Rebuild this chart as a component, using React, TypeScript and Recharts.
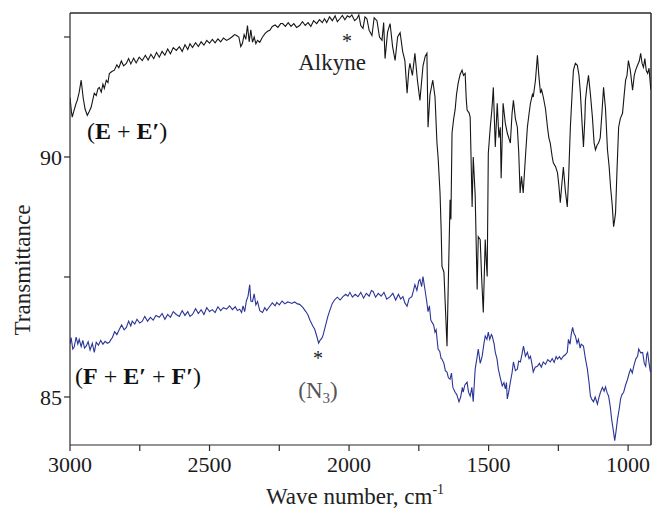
import { LineChart, Line, XAxis, YAxis } from 'recharts'

// wavenumber (cm-1) / transmittance pairs
const upperWave = [
  3000, 2995, 2992, 2985, 2978, 2974, 2967, 2960, 2956, 2953, 2946, 2938, 2931, 2924, 2918, 2913, 2906, 2900, 2895,
  2888, 2882, 2877, 2870, 2864, 2859, 2850, 2841, 2832, 2825, 2816, 2808, 2798, 2790, 2782, 2772, 2763, 2752, 2741,
  2730, 2720, 2710, 2700, 2690, 2680, 2670, 2660, 2650, 2640, 2630, 2619, 2608, 2598, 2588, 2578, 2570, 2561, 2550,
  2540, 2530, 2520, 2510, 2500, 2490, 2480, 2470, 2460, 2450, 2439, 2430, 2420, 2410, 2403, 2395, 2388, 2382, 2376,
  2370, 2364, 2358, 2352, 2346, 2340, 2334, 2328, 2320, 2310, 2300, 2292, 2284, 2275, 2265, 2255, 2245, 2238, 2228,
  2218, 2208, 2198, 2188, 2177, 2167, 2157, 2147, 2137, 2127, 2116, 2106, 2096, 2088, 2080, 2070, 2060, 2050, 2042,
  2033, 2024, 2015, 2006, 1998, 1990, 1980, 1972, 1965, 1958, 1950, 1943, 1936, 1928, 1918, 1910, 1900, 1891, 1882,
  1876, 1871, 1862, 1853, 1844, 1835, 1826, 1817, 1808, 1800, 1792, 1786, 1782, 1773, 1764, 1755, 1746, 1735, 1727,
  1721, 1717, 1710, 1700, 1692, 1685, 1681, 1674, 1670, 1667, 1660, 1656, 1649, 1645, 1638, 1635, 1631, 1625, 1620,
  1615, 1609, 1602, 1595, 1590, 1584, 1580, 1577, 1570, 1566, 1559, 1555, 1548, 1541, 1537, 1530, 1525, 1519, 1512,
  1508, 1505, 1501, 1494, 1488, 1483, 1476, 1469, 1463, 1458, 1455, 1448, 1440, 1433, 1422, 1416, 1411, 1404, 1397,
  1392, 1387, 1382, 1376, 1368, 1361, 1355, 1350, 1343, 1340, 1332, 1325, 1320, 1314, 1310, 1304, 1296, 1289, 1284,
  1279, 1272, 1268, 1260, 1253, 1248, 1243, 1238, 1232, 1225, 1218, 1213, 1207, 1200, 1196, 1189, 1182, 1176, 1171,
  1165, 1160, 1155, 1153, 1148, 1142, 1135, 1128, 1122, 1117, 1111, 1106, 1100, 1094, 1088, 1081, 1074, 1068, 1063,
  1057, 1052, 1048, 1045, 1040, 1034, 1028, 1020, 1014, 1009, 1004, 999, 992, 984, 978, 973, 967, 960, 955, 950, 945,
  940, 935, 930, 925, 920, 918,
]
const upperT = [
  91.24, 90.95, 90.83, 90.98, 91.12, 91.18, 91.35, 91.6, 91.4, 91.24, 91.0, 90.87, 90.95, 91.04, 91.2, 91.33, 91.28,
  91.42, 91.45, 91.35, 91.52, 91.43, 91.6, 91.55, 91.74, 91.78, 91.81, 91.92, 91.86, 92.0, 91.9, 91.95, 92.05, 91.94,
  92.06, 91.96, 92.08, 92.01, 92.12, 92.02, 92.14, 92.05, 92.18, 92.08, 92.2, 92.12, 92.25, 92.15, 92.28, 92.22, 92.3,
  92.2, 92.34, 92.24, 92.36, 92.28, 92.38, 92.3, 92.4, 92.33, 92.43, 92.37, 92.45, 92.38, 92.46, 92.4, 92.48, 92.43,
  92.46, 92.5, 92.55, 92.53, 92.5, 92.3, 92.37, 92.55, 92.45, 92.74, 92.4, 92.65, 92.39, 92.5, 92.36, 92.43, 92.39,
  92.5, 92.58, 92.62, 92.64, 92.72, 92.75, 92.7, 92.78, 92.78, 92.72, 92.8, 92.72, 92.78, 92.7, 92.74, 92.82, 92.74,
  92.8, 92.72, 92.84, 92.78, 92.86, 92.8, 92.88, 92.8, 92.92, 92.84, 92.94, 92.82, 92.88, 92.95, 92.86, 92.94, 92.91,
  92.96, 92.84, 92.88, 92.96, 92.74, 92.68, 92.92, 92.88, 92.64, 92.53, 92.9, 92.84, 92.5, 92.43, 92.8, 92.05, 92.6,
  92.78, 92.3, 92.01, 92.5, 92.59, 92.2, 92.01, 91.33, 91.8, 91.95, 91.7, 92.16, 91.6, 91.18, 91.9, 92.1, 92.16, 90.62,
  91.3, 91.6, 91.25, 90.29, 90.0, 89.25, 88.5, 87.72, 87.6, 87.03, 86.06, 87.2, 89.11, 88.7, 90.5, 90.8, 90.98, 91.3,
  91.54, 91.72, 91.81, 91.7, 91.74, 91.2, 90.98, 90.92, 90.83, 88.96, 90.0, 89.2, 87.24, 88.34, 88.28, 87.5, 86.76,
  88.28, 87.8, 87.51, 90.08, 90.62, 91.0, 91.45, 90.21, 91.12, 90.4, 90.62, 89.56, 91.12, 90.7, 90.5, 90.29, 90.9,
  91.18, 90.8, 90.62, 90.1, 89.25, 89.6, 89.25, 90.0, 90.62, 90.9, 91.12, 91.3, 91.25, 91.6, 92.12, 91.7, 91.33, 91.4,
  91.25, 91.0, 90.62, 90.4, 90.29, 90.0, 89.88, 89.8, 89.67, 89.4, 89.05, 89.4, 89.79, 89.3, 88.96, 89.6, 90.62, 91.4,
  91.81, 91.95, 91.91, 91.7, 91.33, 90.7, 90.21, 90.8, 91.18, 91.45, 91.7, 91.3, 90.83, 90.3, 90.15, 90.25, 90.29,
  90.4, 90.9, 91.45, 91.0, 90.15, 89.8, 89.38, 89.0, 88.55, 88.7, 88.84, 89.7, 90.62, 90.8, 90.91, 91.3, 91.6, 91.7,
  92.01, 91.8, 91.39, 91.7, 91.81, 91.9, 92.0, 92.16, 91.95, 91.87, 92.05, 91.8, 91.74, 91.85, 91.49, 91.4,
]

const lowerWave = [
  3000, 2996, 2990, 2985, 2978, 2972, 2967, 2960, 2954, 2948, 2942, 2935, 2928, 2920, 2913, 2906, 2898, 2890, 2882,
  2874, 2866, 2859, 2853, 2848, 2840, 2832, 2823, 2815, 2806, 2798, 2790, 2782, 2777, 2768, 2760, 2750, 2741, 2732,
  2722, 2712, 2702, 2692, 2680, 2670, 2660, 2650, 2640, 2630, 2619, 2608, 2598, 2588, 2578, 2570, 2561, 2550, 2540,
  2530, 2520, 2510, 2500, 2490, 2480, 2470, 2460, 2450, 2439, 2428, 2418, 2408, 2400, 2392, 2385, 2380, 2374, 2368,
  2362, 2356, 2352, 2346, 2340, 2334, 2328, 2320, 2310, 2302, 2295, 2284, 2275, 2265, 2259, 2250, 2240, 2230, 2220,
  2213, 2205, 2195, 2185, 2177, 2165, 2155, 2148, 2140, 2130, 2123, 2115, 2109, 2104, 2098, 2094, 2086, 2076, 2068,
  2060, 2051, 2042, 2032, 2022, 2012, 2004, 1997, 1988, 1978, 1968, 1958, 1948, 1938, 1928, 1920, 1914, 1905, 1895,
  1885, 1875, 1865, 1853, 1843, 1833, 1823, 1815, 1807, 1800, 1792, 1785, 1775, 1770, 1764, 1757, 1750, 1746, 1740,
  1735, 1731, 1728, 1722, 1717, 1712, 1707, 1703, 1697, 1692, 1688, 1681, 1675, 1670, 1667, 1660, 1655, 1649, 1644,
  1638, 1633, 1628, 1620, 1614, 1606, 1600, 1594, 1591, 1585, 1577, 1572, 1566, 1560, 1555, 1550, 1548, 1542, 1537,
  1530, 1523, 1517, 1512, 1506, 1501, 1496, 1490, 1487, 1480, 1476, 1470, 1465, 1458, 1451, 1445, 1440, 1436, 1433,
  1428, 1422, 1416, 1411, 1404, 1397, 1392, 1386, 1380, 1375, 1368, 1361, 1355, 1350, 1345, 1340, 1333, 1325, 1318,
  1311, 1304, 1296, 1288, 1279, 1272, 1265, 1258, 1253, 1246, 1240, 1232, 1225, 1218, 1214, 1208, 1204, 1199, 1194,
  1189, 1183, 1178, 1172, 1168, 1160, 1153, 1146, 1140, 1135, 1130, 1124, 1118, 1110, 1104, 1099, 1092, 1086, 1081,
  1075, 1070, 1064, 1059, 1053, 1048, 1043, 1038, 1032, 1027, 1022, 1016, 1009, 1002, 996, 991, 985, 980, 972, 966,
  962, 955, 948, 942, 937, 933, 930, 925, 920, 918,
]
const lowerT = [
  86.1, 86.24, 86.0, 86.04, 86.25, 86.1, 86.2, 86.05, 86.18, 86.02, 86.06, 86.15, 85.98, 86.12, 85.93, 86.14, 86.08,
  86.18, 86.1, 86.16, 86.12, 86.14, 86.2, 86.24, 86.36, 86.3, 86.41, 86.5, 86.4, 86.45, 86.58, 86.48, 86.58, 86.52,
  86.62, 86.54, 86.58, 86.68, 86.58, 86.66, 86.6, 86.7, 86.66, 86.74, 86.62, 86.72, 86.66, 86.78, 86.72, 86.68, 86.8,
  86.7, 86.78, 86.68, 86.72, 86.84, 86.74, 86.82, 86.72, 86.86, 86.78, 86.82, 86.76, 86.88, 86.8, 86.86, 86.83, 86.9,
  86.82, 86.88, 86.8, 86.83, 86.76, 86.9, 86.78, 87.0, 87.1, 87.34, 87.0, 86.99, 87.15, 86.92, 86.99, 86.8, 86.76,
  86.86, 86.8, 86.89, 86.96, 86.9, 86.97, 86.92, 87.0, 86.94, 86.98, 86.97, 86.95, 86.98, 86.94, 86.93, 86.86, 86.78,
  86.72, 86.6, 86.48, 86.41, 86.25, 86.12, 86.18, 86.22, 86.27, 86.45, 86.68, 86.82, 86.95, 87.03, 87.08, 87.02,
  87.09, 87.14, 87.1, 87.18, 87.08, 87.14, 87.09, 87.18, 87.06, 87.16, 87.1, 87.22, 87.2, 87.08, 87.16, 87.1, 87.18,
  87.04, 87.09, 87.16, 87.02, 87.14, 87.04, 87.09, 86.96, 86.89, 87.05, 87.09, 87.2, 87.34, 87.22, 87.42, 87.45, 87.3,
  87.51, 87.35, 87.24, 87.0, 86.78, 86.9, 86.6, 86.56, 86.5, 86.35, 86.4, 86.0, 85.95, 85.8, 85.79, 85.7, 85.55,
  85.52, 85.4, 85.37, 85.5, 85.2, 85.1, 85.05, 84.9, 85.0, 85.2, 85.1, 85.25, 85.31, 85.1, 85.02, 85.2, 84.9, 85.4,
  85.58, 85.8, 86.0, 85.7, 85.85, 86.1, 86.27, 86.2, 86.35, 86.2, 86.3, 86.27, 86.1, 85.93, 85.8, 85.58, 85.4, 85.23,
  85.3, 85.17, 85.3, 84.96, 85.1, 85.31, 85.5, 85.73, 85.55, 85.58, 85.75, 85.73, 85.9, 86.06, 85.85, 85.93, 85.8,
  85.85, 85.7, 85.52, 85.62, 85.64, 85.7, 85.62, 85.73, 85.68, 85.78, 85.73, 85.8, 85.72, 85.84, 85.79, 85.84, 85.78,
  85.85, 85.88, 85.93, 86.2, 86.1, 86.3, 86.45, 86.32, 86.27, 86.12, 86.2, 86.02, 86.1, 86.06, 85.8, 85.58, 85.3,
  85.02, 84.95, 84.9, 85.0, 84.85, 85.0, 85.1, 85.2, 85.12, 85.21, 85.08, 85.02, 84.8, 84.54, 84.3, 84.09, 84.3,
  84.54, 84.75, 84.96, 85.05, 85.1, 85.25, 85.37, 85.5, 85.58, 85.5, 85.64, 85.8, 85.85, 86.0, 85.92, 85.93, 85.7,
  85.64, 85.9, 85.93, 85.7, 85.52, 85.6,
]

const xTicks = [3000, 2750, 2500, 2250, 2000, 1750, 1500, 1250, 1000]
const yTicks = [85, 87.5, 90, 92.5]

const upperData = upperWave.map((w, i) => ({ w, t: upperT[i] }))
const lowerData = lowerWave.map((w, i) => ({ w, t: lowerT[i] }))

const W = 654
const H = 518
const margin = { top: 13, right: 3, bottom: 0, left: 0 }
const yAxisW = 70
const xAxisH = 73

const serif = '"Liberation Serif", "DejaVu Serif", serif'
const axisColor = '#2a2a2a'
const tickStyle = { fill: '#1a1a1a', fontSize: 22, fontFamily: serif }

export default function App() {
  // plot box derived from the margins, used only for the closed frame
  const plotX = margin.left + yAxisW
  const plotY = margin.top
  const plotR = W - margin.right
  const plotB = H - margin.bottom - xAxisH

  // pinned to the window corner so the body margin can't push it into a scrollbar
  return (
    <div style={{ position: 'absolute', left: 0, top: 0, width: W, height: H, overflow: 'hidden' }}>
      <LineChart width={W} height={H} margin={margin}>
        <XAxis
          type="number"
          dataKey="w"
          domain={[918, 3000]}
          reversed
          allowDataOverflow
          ticks={xTicks}
          tickFormatter={(v) => (v % 500 === 0 ? String(v) : '')}
          tick={tickStyle}
          tickSize={6}
          tickMargin={5}
          height={xAxisH}
          stroke={axisColor}
          strokeWidth={1.2}
        />
        <YAxis
          type="number"
          dataKey="t"
          domain={[84, 93]}
          allowDataOverflow
          ticks={yTicks}
          tickFormatter={(v) => (v % 5 === 0 ? String(v) : '')}
          tick={tickStyle}
          tickSize={6}
          tickMargin={2}
          width={yAxisW}
          stroke={axisColor}
          strokeWidth={1.2}
        />
        <Line
          data={upperData}
          dataKey="t"
          stroke="#161616"
          strokeWidth={1.1}
          dot={false}
          isAnimationActive={false}
        />
        <Line
          data={lowerData}
          dataKey="t"
          stroke="#2b3596"
          strokeWidth={1.1}
          dot={false}
          isAnimationActive={false}
        />
        {/* top and right edges of the frame */}
        <line x1={plotX} y1={plotY} x2={plotR} y2={plotY} stroke={axisColor} strokeWidth={1.3} />
        <line x1={plotR} y1={plotY} x2={plotR} y2={plotB} stroke={axisColor} strokeWidth={1.5} />
        <text x={347} y={48} textAnchor="middle" fontSize={20} fontFamily={serif} fill="#222">*</text>
        <text x={332} y={70} textAnchor="middle" fontSize={23} fontFamily={serif} fill="#222">Alkyne</text>
        <text x={87} y={139} fontSize={24} fontFamily={serif} fill="#111">
          (<tspan fontWeight="bold">E</tspan> + <tspan fontWeight="bold">E′</tspan>)
        </text>
        <text x={75} y={384} fontSize={24} fontFamily={serif} fill="#111">
          (<tspan fontWeight="bold">F</tspan> + <tspan fontWeight="bold">E′</tspan> + <tspan fontWeight="bold">F′</tspan>)
        </text>
        <text x={318} y={365} textAnchor="middle" fontSize={20} fontFamily={serif} fill="#222">*</text>
        <text x={318} y={398} textAnchor="middle" fontSize={23} fontFamily={serif} fill="#555">
          (N<tspan fontSize={15} dy={5}>3</tspan><tspan dy={-5}>)</tspan>
        </text>
        <text x={355} y={504} textAnchor="middle" fontSize={23} fontFamily={serif} fill="#222">
          Wave number, cm<tspan fontSize={14} dy={-10}>-1</tspan>
        </text>
        <text
          x={22}
          y={270}
          textAnchor="middle"
          dominantBaseline="central"
          transform="rotate(-90, 22, 270)"
          fontSize={23}
          fontFamily={serif}
          fill="#222"
        >
          Transmittance
        </text>
      </LineChart>
    </div>
  )
}
